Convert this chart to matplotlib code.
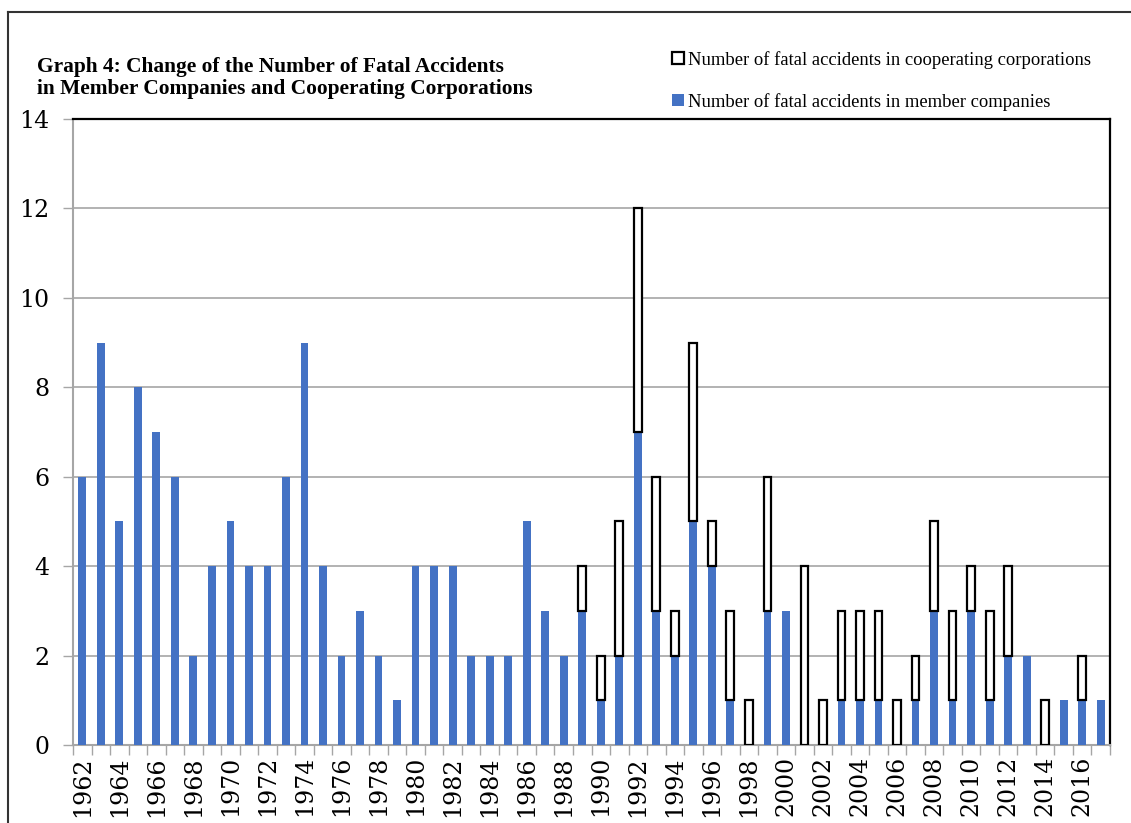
import matplotlib
matplotlib.use("Agg")
import matplotlib.pyplot as plt
from matplotlib.lines import Line2D
import numpy as np

years = list(range(1962, 2018))
member = [6, 9, 5, 8, 7, 6, 2, 4, 5, 4, 4, 6, 9, 4, 2, 3, 2, 1, 4, 4,
          4, 2, 2, 2, 5, 3, 2, 3, 1, 2, 7, 3, 2, 5, 4, 1, 0, 3, 3, 0,
          0, 1, 1, 1, 0, 1, 3, 1, 3, 1, 2, 2, 0, 1, 1, 1]
cooperating = [0, 0, 0, 0, 0, 0, 0, 0, 0, 0, 0, 0, 0, 0, 0, 0, 0, 0, 0, 0,
               0, 0, 0, 0, 0, 0, 0, 1, 1, 3, 5, 3, 1, 4, 1, 2, 1, 3, 0, 4,
               1, 2, 2, 2, 1, 1, 2, 2, 1, 2, 2, 0, 1, 0, 1, 0]
yticks = [0, 2, 4, 6, 8, 10, 12, 14]

label_coop = "Number of fatal accidents in cooperating corporations"
label_member = "Number of fatal accidents in member companies"
title = ("Graph 4: Change of the Number of Fatal Accidents\n"
         "in Member Companies and Cooperating Corporations")

blue = "#4472C4"
grid_gray = "#A6A6A6"
serif = ["Liberation Serif", "DejaVu Serif"]
tick_font = ["DejaVu Serif"]

fig = plt.figure(figsize=(11.31, 8.23), dpi=100)
ax = fig.add_axes([73 / 1131, 1 - 745 / 823, (1110 - 73) / 1131, (745 - 119) / 823])

x = np.arange(len(years))
member = np.array(member)
cooperating = np.array(cooperating)

ax.bar(x, member, width=0.42, color=blue, zorder=3, label=label_member)
coop_mask = cooperating > 0
ax.bar(x[coop_mask], cooperating[coop_mask], width=0.42, bottom=member[coop_mask],
       facecolor="white", edgecolor="black", linewidth=1.6, zorder=3,
       label=label_coop)

ax.set_xlim(-0.5, len(years) - 0.5)
ax.set_ylim(0, 14)
ax.set_yticks(yticks)
ax.yaxis.grid(True, color=grid_gray, linewidth=1.2, zorder=0)
ax.set_axisbelow(True)

# year labels every other year, ticks at category boundaries
ax.set_xticks(x[::2])
ax.set_xticklabels([str(y) for y in years[::2]], rotation=90)
ax.set_xticks(np.arange(-0.5, len(years)), minor=True)
ax.tick_params(axis="x", which="major", length=0, pad=8)
ax.tick_params(axis="x", which="minor", length=7, color=grid_gray, width=1)
ax.tick_params(axis="y", length=7, color=grid_gray, width=1, pad=10)

for lab in ax.get_xticklabels():
    lab.set_fontfamily(tick_font)
    lab.set_fontsize(17)
for lab in ax.get_yticklabels():
    lab.set_fontfamily(tick_font)
    lab.set_fontsize(17)

for side in ("left", "bottom"):
    ax.spines[side].set_color(grid_gray)
    ax.spines[side].set_linewidth(1.5)
for side in ("top", "right"):
    ax.spines[side].set_color("black")
    ax.spines[side].set_linewidth(1.6)

fig.text(37 / 1131, 1 - 57 / 823, title, fontsize=15.4, fontweight="bold",
         family=serif, va="top", ha="left", linespacing=1.12)

handles, labels = ax.get_legend_handles_labels()
leg = fig.legend(handles[::-1], labels[::-1], loc="upper left",
                 bbox_to_anchor=(655 / 1131, 1 - 34 / 823), frameon=False,
                 handlelength=0.65, handleheight=0.65, handletextpad=0.25,
                 labelspacing=1.3, prop={"family": serif, "size": 13.4})

# outer frame lines (left and top)
fig.add_artist(Line2D([8 / 1131, 8 / 1131], [0, 1 - 12 / 823], color="#333333",
                      linewidth=1.5, transform=fig.transFigure))
fig.add_artist(Line2D([8 / 1131, 1], [1 - 12 / 823, 1 - 12 / 823], color="#333333",
                      linewidth=1.5, transform=fig.transFigure))

fig.savefig("out.png", dpi=100)
